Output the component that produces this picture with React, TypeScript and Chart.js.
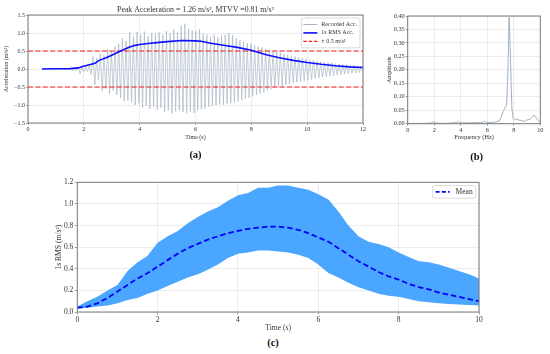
import React, { useEffect, useRef } from "react";
import { Chart, registerables } from "chart.js";

Chart.register(...registerables);

const SERIF = '"Liberation Serif", "Times New Roman", serif';
const TEXT = "#333333";
const GRID = "#e4e4e4";
const FRAME = "#7a7a7a";

// ---------- (a) acceleration time history ----------
const ACC_TITLE = "Peak Acceleration = 1.26 m/s², MTVV =0.81 m/s²";
const ACC_X_LABEL = "Time (s)";
const ACC_Y_LABEL = "Acceleration (m/s²)";
const ACC_FIRST_CYCLE = 0.88; // s, first recorded oscillation
const ACC_CYCLE = 0.1316; // s, one oscillation (~7.6 Hz)
const ACC_PEAKS_POS = [
  0.02, 0.02, 0.03, 0.02, 0.03, 0.02, 0.03, 0.05, 0.06, 0.08,
  0.10, 0.35, 0.30, 0.42, 0.38, 0.55, 0.50, 0.62, 0.70, 0.85,
  0.78, 1.02, 0.90, 1.03, 0.95, 1.04, 0.92, 1.00, 0.98, 1.02,
  0.95, 1.05, 1.00, 1.10, 1.02, 1.20, 1.26, 1.12, 1.08, 1.05,
  1.10, 0.98, 0.95, 0.90, 0.95, 0.88, 0.92, 0.95, 1.00, 0.95,
  0.85, 0.80, 0.75, 0.72, 0.70, 0.66, 0.62, 0.60, 0.56, 0.53,
  0.50, 0.48, 0.45, 0.42, 0.40, 0.37, 0.35, 0.32, 0.30, 0.28,
  0.26, 0.24, 0.22, 0.21, 0.19, 0.18, 0.17, 0.15, 0.14, 0.13,
  0.12, 0.11, 0.10, 0.09, 0.08,
];
const ACC_PEAKS_NEG = [
  -0.02, -0.03, -0.02, -0.03, -0.02, -0.04, -0.05, -0.13, -0.08, -0.07,
  -0.15, -0.44, -0.30, -0.62, -0.55, -0.68, -0.60, -0.72, -0.80, -0.90,
  -0.88, -0.92, -1.00, -0.95, -1.08, -1.02, -1.10, -1.05, -1.13, -1.08,
  -1.20, -1.15, -1.23, -1.18, -1.15, -1.20, -1.22, -1.18, -1.22, -1.15,
  -1.12, -1.10, -1.05, -1.02, -1.00, -0.98, -1.00, -0.96, -0.95, -0.92,
  -0.90, -0.86, -0.82, -0.80, -0.76, -0.72, -0.68, -0.65, -0.60, -0.56,
  -0.53, -0.50, -0.48, -0.45, -0.42, -0.39, -0.37, -0.35, -0.33, -0.31,
  -0.29, -0.27, -0.25, -0.23, -0.21, -0.20, -0.19, -0.17, -0.16, -0.14,
  -0.13, -0.12, -0.11, -0.10, -0.09,
];
const RMS_T = [0.5, 1.0, 1.5, 1.8, 1.95, 2.2, 2.4, 2.55, 2.8, 3.0, 3.2, 3.4, 3.6, 3.8, 4.0, 4.3, 4.7, 5.0, 5.5, 6.0, 6.2, 6.5, 7.0, 7.5, 8.0, 8.5, 9.0, 9.5, 10.0, 10.5, 11.0, 11.5, 12.0];
const RMS_V = [0.0, 0.005, 0.01, 0.03, 0.07, 0.12, 0.16, 0.24, 0.31, 0.38, 0.46, 0.53, 0.6, 0.65, 0.68, 0.71, 0.74, 0.76, 0.79, 0.78, 0.77, 0.72, 0.66, 0.6, 0.52, 0.4, 0.31, 0.24, 0.18, 0.13, 0.09, 0.06, 0.04];
const LIMIT = 0.5;
const ACC_LEGEND = ["Recorded Acc.", "1s RMS Acc.", "± 0.5 m/s²"];

// ---------- (b) spectrum ----------
const FFT_X_LABEL = "Frequency (Hz)";
const FFT_Y_LABEL = "Amplitude";
const FFT_FREQ = [0, 0.5, 1.0, 1.5, 1.8, 1.95, 2.1, 2.5, 3.0, 3.5, 3.7, 3.8, 3.95, 4.5, 5.0, 5.5, 5.7, 5.8, 5.95, 6.3, 6.6, 6.9, 7.05, 7.2, 7.35, 7.45, 7.55, 7.65, 7.75, 7.85, 7.95, 8.05, 8.2, 8.4, 8.6, 8.8, 9.0, 9.2, 9.4, 9.5, 9.6, 9.8, 10.0];
const FFT_AMP = [0.0, 0.001, 0.001, 0.002, 0.003, 0.008, 0.003, 0.001, 0.002, 0.003, 0.005, 0.008, 0.004, 0.003, 0.004, 0.004, 0.006, 0.009, 0.004, 0.005, 0.006, 0.01, 0.025, 0.045, 0.06, 0.068, 0.18, 0.395, 0.25, 0.06, 0.02, 0.014, 0.018, 0.013, 0.012, 0.008, 0.014, 0.016, 0.025, 0.032, 0.028, 0.015, 0.004];

// ---------- (c) 1s RMS envelope ----------
const RMS_X_LABEL = "Time (s)";
const RMS_Y_LABEL = "1s RMS (m/s²)";
const BAND_T = [0, 0.25, 0.5, 0.75, 1.0, 1.25, 1.5, 1.75, 2.0, 2.25, 2.5, 2.75, 3.0, 3.25, 3.5, 3.75, 4.0, 4.25, 4.5, 4.75, 5.0, 5.25, 5.5, 5.75, 6.0, 6.25, 6.5, 6.75, 7.0, 7.25, 7.5, 7.75, 8.0, 8.25, 8.5, 8.75, 9.0, 9.25, 9.5, 9.75, 10.0];
const BAND_UPPER = [0.05, 0.1, 0.14, 0.2, 0.25, 0.38, 0.46, 0.52, 0.64, 0.7, 0.75, 0.82, 0.88, 0.93, 0.97, 1.03, 1.08, 1.1, 1.15, 1.15, 1.17, 1.17, 1.15, 1.13, 1.09, 1.04, 0.93, 0.8, 0.7, 0.65, 0.63, 0.6, 0.55, 0.51, 0.47, 0.46, 0.44, 0.41, 0.38, 0.35, 0.31];
const BAND_MEAN = [0.04, 0.05, 0.08, 0.13, 0.19, 0.25, 0.31, 0.36, 0.42, 0.48, 0.54, 0.59, 0.63, 0.67, 0.7, 0.73, 0.75, 0.77, 0.78, 0.79, 0.79, 0.78, 0.76, 0.73, 0.69, 0.65, 0.59, 0.53, 0.47, 0.42, 0.37, 0.33, 0.3, 0.26, 0.23, 0.21, 0.18, 0.16, 0.14, 0.12, 0.1];
const BAND_LOWER = [0.03, 0.04, 0.05, 0.06, 0.08, 0.11, 0.13, 0.17, 0.2, 0.24, 0.28, 0.32, 0.35, 0.39, 0.44, 0.5, 0.54, 0.55, 0.57, 0.57, 0.56, 0.55, 0.53, 0.5, 0.44, 0.36, 0.32, 0.27, 0.23, 0.2, 0.17, 0.15, 0.14, 0.12, 0.1, 0.09, 0.08, 0.075, 0.07, 0.065, 0.06];

const RAW_COLOR = "#a9b7c5";
const RMS_COLOR = "#1010ff";
const LIMIT_COLOR = "#ff1a1a";
const BAND_COLOR = "#4ba6ff";
const FFT_COLOR = "#8b9fb2";

const zip = (xs: number[], ys: number[]) => xs.map((x, i) => ({ x, y: ys[i] }));

function accPoints() {
  const pts: { x: number; y: number }[] = [{ x: 0.5, y: 0 }];
  ACC_PEAKS_POS.forEach((p, k) => {
    const t = ACC_FIRST_CYCLE + k * ACC_CYCLE;
    pts.push({ x: t, y: p });
    pts.push({ x: t + ACC_CYCLE / 2, y: ACC_PEAKS_NEG[k] });
  });
  return pts;
}

const fmt = (v: any, dec: number) => Number(v).toFixed(dec).replace("-", "\u2212");

function axis(o: any) {
  const isX = o.axis === "x";
  return {
    type: "linear",
    min: o.min,
    max: o.max,
    afterFit: (s: any) => {
      if (isX) s.height = o.fit;
      else s.width = o.fit;
    },
    ticks: {
      stepSize: o.step,
      autoSkip: false,
      maxRotation: 0,
      padding: o.tickPad ?? 1,
      color: TEXT,
      font: { family: SERIF, size: o.size },
      callback: (v: any) => fmt(v, o.dec),
    },
    grid: { color: GRID, lineWidth: 0.7, tickLength: o.tickLen ?? 2, tickColor: "#777", drawTicks: true },
    border: { display: false },
    title: {
      display: true,
      text: o.title,
      color: TEXT,
      font: { family: SERIF, size: o.titleSize },
      padding: isX ? { top: 0, bottom: o.titlePad } : { top: o.titlePad, bottom: 0 },
    },
  };
}

function decor(o: any) {
  return {
    id: "decor",
    afterDraw(chart: any) {
      const { ctx, chartArea: a } = chart;
      ctx.save();
      ctx.strokeStyle = FRAME;
      ctx.lineWidth = 1;
      ctx.strokeRect(a.left, a.top, a.right - a.left, a.bottom - a.top);
      if (o.title) {
        ctx.font = `${o.titleSize}px ${SERIF}`;
        ctx.fillStyle = TEXT;
        ctx.textAlign = "center";
        ctx.textBaseline = "middle";
        ctx.fillText(o.title, (a.left + a.right) / 2, a.top - o.titleGap);
      }
      if (o.legend) {
        const L = o.legend;
        ctx.font = `${L.size}px ${SERIF}`;
        const tw = Math.max(...L.items.map((it: any) => ctx.measureText(it.label).width));
        const w = L.padX + L.lineLen + L.gap + tw + L.padR;
        const h = L.items.length * L.rowH + 2 * L.padY;
        const x = a.right - L.inset - w;
        const y = a.top + L.inset;
        ctx.beginPath();
        if (ctx.roundRect) ctx.roundRect(x, y, w, h, 2);
        else ctx.rect(x, y, w, h);
        ctx.fillStyle = "rgba(255,255,255,0.85)";
        ctx.fill();
        ctx.strokeStyle = "#d2d2d2";
        ctx.lineWidth = 0.8;
        ctx.stroke();
        L.items.forEach((it: any, i: number) => {
          const cy = y + L.padY + L.rowH * (i + 0.5);
          ctx.beginPath();
          ctx.setLineDash(it.dash || []);
          ctx.strokeStyle = it.color;
          ctx.lineWidth = it.width;
          ctx.moveTo(x + L.padX, cy);
          ctx.lineTo(x + L.padX + L.lineLen, cy);
          ctx.stroke();
          ctx.setLineDash([]);
          ctx.fillStyle = TEXT;
          ctx.textAlign = "left";
          ctx.textBaseline = "middle";
          ctx.fillText(it.label, x + L.padX + L.lineLen + L.gap, cy);
        });
      }
      ctx.restore();
    },
  };
}

const base = (padding: any) => ({
  responsive: false,
  animation: false,
  devicePixelRatio: 1,
  layout: { padding },
  plugins: { legend: { display: false }, tooltip: { enabled: false }, title: { display: false } },
  elements: { point: { radius: 0 }, line: { tension: 0 } },
});

function configA(): any {
  return {
    type: "line",
    data: {
      datasets: [
        { data: zip(RMS_T, RMS_V), borderColor: RMS_COLOR, borderWidth: 1.6, pointRadius: 0, order: 0 },
        { data: zip([0, 12], [LIMIT, LIMIT]), borderColor: LIMIT_COLOR, borderWidth: 1.2, borderDash: [5, 2.4], pointRadius: 0, order: 1 },
        { data: zip([0, 12], [-LIMIT, -LIMIT]), borderColor: LIMIT_COLOR, borderWidth: 1.2, borderDash: [5, 2.4], pointRadius: 0, order: 1 },
        { data: accPoints(), borderColor: RAW_COLOR, borderWidth: 0.7, pointRadius: 0, order: 2 },
      ],
    },
    options: {
      ...base({ left: 0, top: 15, right: 12, bottom: 0 }),
      scales: {
        x: axis({ axis: "x", min: 0, max: 12, step: 2, dec: 0, size: 6, fit: 27, title: ACC_X_LABEL, titleSize: 6, titlePad: 9 }),
        y: axis({ axis: "y", min: -1.5, max: 1.5, step: 0.5, dec: 1, size: 6, fit: 28, title: ACC_Y_LABEL, titleSize: 6, titlePad: 3.1 }),
      },
    },
    plugins: [
      decor({
        title: ACC_TITLE,
        titleSize: 7.8,
        titleGap: 5,
        legend: {
          size: 6, rowH: 8.4, padY: 2.3, padX: 2, padR: 3, lineLen: 14, gap: 4, inset: 3,
          items: [
            { label: ACC_LEGEND[0], color: RAW_COLOR, width: 1 },
            { label: ACC_LEGEND[1], color: RMS_COLOR, width: 1.6 },
            { label: ACC_LEGEND[2], color: LIMIT_COLOR, width: 1.2, dash: [3.5, 1.8] },
          ],
        },
      }),
    ],
  };
}

function configB(): any {
  return {
    type: "line",
    data: {
      datasets: [{ data: zip(FFT_FREQ, FFT_AMP), borderColor: FFT_COLOR, borderWidth: 0.8, pointRadius: 0 }],
    },
    options: {
      ...base({ left: 0, top: 16, right: 9.7, bottom: 0 }),
      scales: {
        x: axis({ axis: "x", min: 0, max: 10, step: 2, dec: 0, size: 6.3, fit: 26.3, title: FFT_X_LABEL, titleSize: 6.3, titlePad: 9.2 }),
        y: axis({ axis: "y", min: 0, max: 0.4, step: 0.05, dec: 2, size: 6.3, fit: 32.7, title: FFT_Y_LABEL, titleSize: 6.3, titlePad: 10.2 }),
      },
    },
    plugins: [decor({})],
  };
}

function configC(): any {
  return {
    type: "line",
    data: {
      datasets: [
        { data: zip(BAND_T, BAND_MEAN), borderColor: "#0000ff", borderWidth: 1.8, borderDash: [5.5, 3], pointRadius: 0, fill: false, order: 0 },
        { data: zip(BAND_T, BAND_LOWER), borderColor: BAND_COLOR, borderWidth: 0, pointRadius: 0, fill: false, order: 1 },
        { data: zip(BAND_T, BAND_UPPER), borderColor: BAND_COLOR, borderWidth: 0, pointRadius: 0, fill: "-1", backgroundColor: BAND_COLOR, order: 2 },
      ],
    },
    options: {
      ...base({ left: 0, top: 22.3, right: 71, bottom: 0 }),
      scales: {
        x: axis({ axis: "x", min: 0, max: 10, step: 2, dec: 0, size: 7.5, fit: 23, title: RMS_X_LABEL, titleSize: 7.6, titlePad: 2.7, tickLen: 2.5, tickPad: 1.5 }),
        y: axis({ axis: "y", min: 0, max: 1.2, step: 0.2, dec: 1, size: 7.5, fit: 77.3, title: RMS_Y_LABEL, titleSize: 7.6, titlePad: 54, tickLen: 2.5, tickPad: 1.5 }),
      },
    },
    plugins: [
      decor({
        legend: {
          size: 7.5, rowH: 9, padY: 1.8, padX: 3.3, padR: 3, lineLen: 14, gap: 6, inset: 3.3,
          items: [{ label: "Mean", color: "#0000ff", width: 1.8, dash: [4, 2.2] }],
        },
      }),
    ],
  };
}

function ChartBox({ left, top, width, height, make }: any) {
  const ref = useRef<HTMLCanvasElement | null>(null);
  useEffect(() => {
    const chart = new Chart(ref.current as HTMLCanvasElement, make());
    return () => chart.destroy();
  }, []);
  return (
    <canvas
      ref={ref}
      width={width}
      height={height}
      style={{ position: "absolute", left, top, width, height, display: "block" }}
    />
  );
}

const tag = (text: string, x: number, y: number) => (
  <div
    style={{
      position: "absolute",
      left: x,
      top: y,
      transform: "translate(-50%, -50%)",
      font: `bold 10.5px ${SERIF}`,
      color: "#111",
      lineHeight: 1,
      whiteSpace: "nowrap",
    }}
  >
    {text}
  </div>
);

export default function App() {
  return (
    <div style={{ position: "absolute", left: 0, top: 0, width: 550, height: 354, background: "#fff", overflow: "hidden" }}>
      <ChartBox left={0} top={0} width={375} height={150} make={configA} />
      <ChartBox left={375} top={0} width={175} height={150} make={configB} />
      <ChartBox left={0} top={160} width={550} height={175} make={configC} />
      {tag("(a)", 195.5, 155)}
      {tag("(b)", 476.7, 156.5)}
      {tag("(c)", 273, 343)}
    </div>
  );
}
